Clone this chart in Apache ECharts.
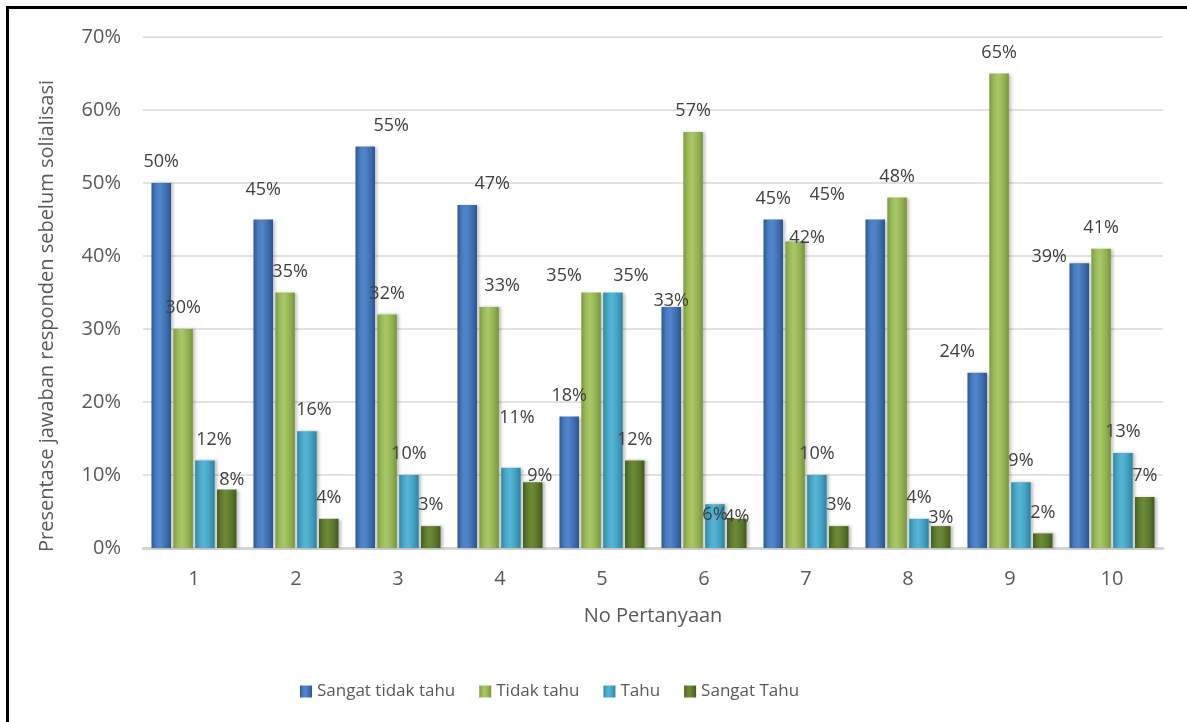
<!DOCTYPE html>
<html>
<head>
<meta charset="utf-8">
<script src="https://cdn.jsdelivr.net/npm/echarts@6/dist/echarts.min.js"></script>
<style>
  html, body { margin: 0; padding: 0; background: #fff; }
  #frame { position: absolute; left: 6px; top: 6px; width: 1200px; height: 730px; border-left: 3px solid #000; border-top: 3px solid #000; }
  #chart { position: absolute; left: 0; top: 0; width: 1187px; height: 722px; }
</style>
</head>
<body>
<div id="frame"></div>
<div id="chart"></div>
<script>
// ---- data ----
const categories = ['1', '2', '3', '4', '5', '6', '7', '8', '9', '10'];
const seriesNames = ['Sangat tidak tahu', 'Tidak tahu', 'Tahu', 'Sangat Tahu'];
const sangatTidakTahu = [50, 45, 55, 47, 18, 33, 45, 45, 24, 39];
const tidakTahu = [30, 35, 32, 33, 35, 57, 42, 48, 65, 41];
const tahu = [12, 16, 10, 11, 35, 6, 10, 4, 9, 13];
const sangatTahu = [8, 4, 3, 9, 12, 4, 3, 3, 2, 7];
const yTicks = [0, 10, 20, 30, 40, 50, 60, 70];

// ---- styling (label nudges, as in the original's hand-placed labels) ----
const labelNudge = {
  '0-1': [0, -9], '0-2': [26, 0], '0-3': [25, 0], '0-5': [0, 15], '0-7': [-48, -4], '0-8': [-20, 0], '0-9': [-30, 15],
  '1-1': [5, 0], '1-3': [13, 0], '1-4': [-27, 4], '1-6': [12, 17],
  '2-0': [9, 0], '2-1': [7, 0], '2-3': [6, -29], '2-4': [18, 4], '2-5': [0, 32],
  '3-0': [5, 11], '3-3': [7, 15], '3-5': [0, 19], '3-7': [0, 13]
};
const palettes = [
  ['#2d5a97', '#4a7dc2', '#5286cb', '#3f6fb0', '#2a5490'],
  ['#7e9c41', '#9dbd5a', '#a9c767', '#93b252', '#789539'],
  ['#2f8aab', '#4baac9', '#57b6d5', '#42a0c0', '#2c82a2'],
  ['#475f1f', '#627f2e', '#6c8b35', '#5b752a', '#425a1c']
];
function grad(p) {
  return { type: 'linear', x: 0, y: 0, x2: 1, y2: 0, colorStops: [
    { offset: 0, color: p[0] }, { offset: 0.25, color: p[1] }, { offset: 0.45, color: p[2] },
    { offset: 0.75, color: p[3] }, { offset: 1, color: p[4] } ] };
}
const allValues = [sangatTidakTahu, tidakTahu, tahu, sangatTahu];
const FONT = '"Open Sans", "Liberation Sans", sans-serif';

const series = allValues.map((vals, si) => ({
  name: seriesNames[si],
  type: 'bar',
  barWidth: 19.5,
  barGap: '12%',
  data: vals.map((v, i) => {
    const n = labelNudge[si + '-' + i];
    return n ? { value: v, label: { offset: n } } : v;
  }),
  itemStyle: {
    color: grad(palettes[si]),
    shadowColor: 'rgba(0,0,0,0.25)', shadowBlur: 3, shadowOffsetX: 2, shadowOffsetY: 0
  },
  label: {
    show: true, position: 'top', distance: 12,
    formatter: '{c}%', color: '#404040', fontSize: 18, fontFamily: FONT
  }
}));

const chart = echarts.init(document.getElementById('chart'), null, { renderer: 'canvas' });
chart.setOption({
  animation: false,
  backgroundColor: 'transparent',
  grid: { left: 143, right: 24, top: 37, bottom: 174, containLabel: false },
  legend: {
    data: seriesNames, left: 295, top: 678, itemWidth: 12, itemHeight: 12, itemGap: 24,
    icon: 'rect',
    textStyle: { color: '#595959', fontSize: 17, fontFamily: FONT }
  },
  xAxis: {
    type: 'category', data: categories,
    name: 'No Pertanyaan', nameLocation: 'middle', nameGap: 58,
    nameTextStyle: { color: '#595959', fontSize: 20, fontFamily: FONT },
    axisLine: { show: true, lineStyle: { color: '#d4d4d4', width: 3 } },
    axisTick: { show: false },
    axisLabel: { color: '#595959', fontSize: 20, fontFamily: FONT, margin: 21 }
  },
  yAxis: {
    type: 'value', min: yTicks[0], max: yTicks[yTicks.length - 1], interval: yTicks[1] - yTicks[0],
    axisLine: { show: false }, axisTick: { show: false },
    axisLabel: { color: '#595959', fontSize: 20, fontFamily: FONT, margin: 22, formatter: '{value}%' },
    splitLine: { lineStyle: { color: '#d9d9d9', width: 1.5 } }
  },
  graphic: [{
    type: 'text', x: 47, y: 316, rotation: Math.PI / 2,
    style: {
      text: 'Presentase jawaban responden sebelum solialisasi',
      fill: '#595959', fontSize: 20, fontFamily: FONT, align: 'center', verticalAlign: 'middle'
    }
  }],
  series: series
});
</script>
</body>
</html>
